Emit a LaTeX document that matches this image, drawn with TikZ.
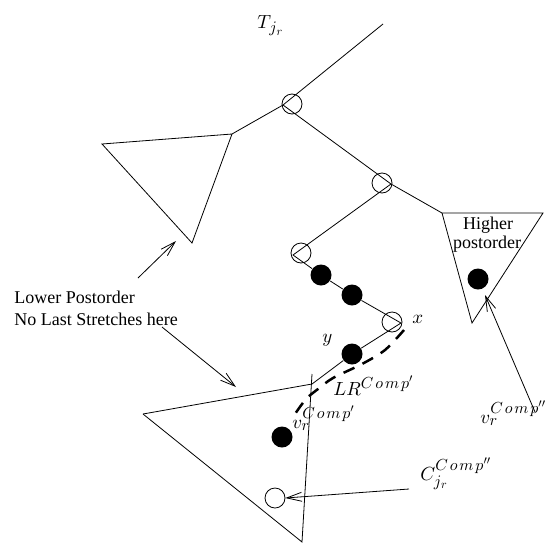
\documentclass[tikz,border=0pt]{standalone}
\usepackage{fontspec}
\setmainfont{Liberation Serif}
\usetikzlibrary{arrows.meta}
\DeclareFontShape{OML}{cmm}{m}{it}{<-> cmmi10}{\skewchar\font=127}
\DeclareFontShape{OT1}{cmr}{m}{n}{<-> cmr10}{}
\DeclareMathSizes{18}{18}{15}{12}
\DeclareMathSizes{19}{19}{16}{12}
\newcommand{\Cmpx}{C\mkern2mu o\mkern2mu m\mkern2mu p}
\newcommand{\jrx}{j_{\mkern1mu r}}
\begin{document}
\begin{tikzpicture}[x=1pt,y=-1pt, line width=0.8pt,
  opennode/.style={circle,draw,minimum size=20pt,inner sep=0pt},
  fullnode/.style={circle,fill=black,minimum size=21pt,inner sep=0pt},
  lbl/.style={font=\fontsize{18}{21.6}\selectfont, inner sep=0pt},
  mlbl/.style={font=\fontsize{19}{22.8}\selectfont, inner sep=0pt},
  barb/.style={-{Straight Barb[length=15pt,width=9pt]}},
  lrpath/.style={line width=2.5pt, dash pattern=on 12pt off 9pt}]
\useasboundingbox (0,0) rectangle (548,544);
% tree vertices
\coordinate (top) at (383,24);
\coordinate (j1) at (283,105);
\node[opennode] (c1) at (292,104) {};
\coordinate (j2) at (391,184);
\node[opennode] (c2) at (382,183) {};
\coordinate (j3) at (293,255);
\node[opennode] (c3) at (301,253) {};
\coordinate (jx) at (401,323);
\node[opennode] (cx) at (392,322) {};
\node[fullnode] (d1) at (321,275) {};
\node[fullnode] (d2) at (352,295) {};
\node[fullnode] (dy) at (352,354) {};
\node[fullnode] (dv) at (282,437) {};
\node[fullnode] (dh) at (478,279) {};
\node[opennode] (cc) at (275,498) {};
% triangles
\coordinate (la) at (102,144);
\coordinate (lb) at (232,134);
\coordinate (lc) at (192,243);
\coordinate (ha) at (442,213);
\coordinate (hb) at (543,213);
\coordinate (hc) at (472,323);
\coordinate (ba) at (143,414);
\coordinate (bb) at (312,384);
\coordinate (bt) at (312,374);
\coordinate (bc) at (302,542);
\draw (la) -- (lb) -- (lc) -- cycle;
\draw (ha) -- (hb) -- (hc) -- cycle;
\draw (ba) -- (bb);
\draw (bt) -- (bc) -- (ba);
% tree edges
\draw (top) -- (j1);
\draw (j1) -- (lb);
\draw (j1) -- (j2) -- (ha);
\draw (j2) -- (j3) -- (d1) -- (d2) -- (jx) -- (dy) -- (bb);
% dashed last stretch
\draw[lrpath] plot[smooth] coordinates {(404,330) (385,350) (362,364) (333,378) (318,389) (306,399) (295,414)};
% labels
\node[mlbl, anchor=base west] (T) at (257,28) {$T_{\mkern1mu\jrx}$};
\node[lbl, anchor=base] (hi) at (488,229) {Higher};
\node[lbl, anchor=base] (po) at (487,248) {postorder};
\node[lbl, anchor=base west] (lp) at (14,303) {Lower Postorder};
\node[lbl, anchor=base west] (nl) at (14,325) {No Last Stretches here};
\node[mlbl, anchor=base west] (xl) at (412,323) {$x$};
\node[mlbl, anchor=base west] (yl) at (322,342) {$y$};
\node[mlbl, anchor=base west] (lr) at (333,395) {$LR^{\Cmpx'}$};
\node[mlbl, anchor=base west] (vl) at (292,428) {$v_r^{\Cmpx'}$};
\node[mlbl, anchor=base west] (vh) at (480,423) {$v_r^{\Cmpx''}$};
\node[mlbl, anchor=base west] (cl) at (420,480) {$C_{\jrx}^{\Cmpx''}$};
% arrows
\coordinate (a1s) at (138,278);
\coordinate (a1e) at (176,241);
\coordinate (a2s) at (162,327);
\coordinate (a2e) at (236,387);
\coordinate (a3s) at (535,412);
\coordinate (a3e) at (485,295);
\coordinate (a4s) at (409,489);
\draw[barb] (a1s) -- (a1e);
\draw[barb] (a2s) -- (a2e);
\draw[barb] (a3s) -- (a3e);
\draw[barb] (a4s) -- (cc.east);
\end{tikzpicture}
\end{document}
